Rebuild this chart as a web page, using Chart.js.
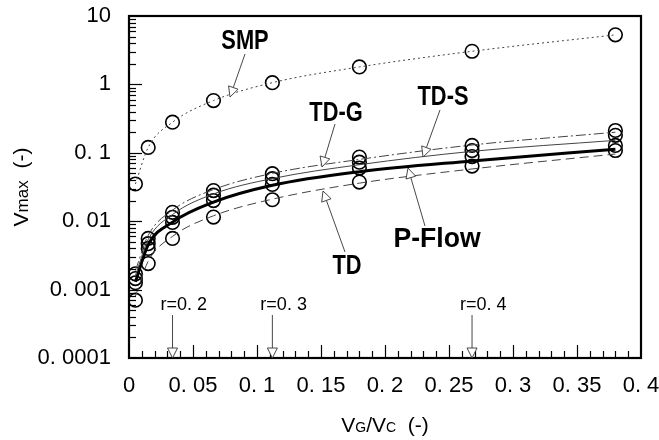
<!DOCTYPE html>
<html>
<head>
<meta charset="utf-8">
<script src="https://cdn.jsdelivr.net/npm/chart.js@4.4.1/dist/chart.umd.min.js"></script>
<style>
  html, body { margin: 0; padding: 0; background: #fff; }
  #wrap { width: 659px; height: 440px; }
</style>
</head>
<body>
<div id="wrap"><canvas id="chart"></canvas></div>
<script>
// ------------ DATA ---------------
const vgvc = [0.005, 0.015, 0.034, 0.066, 0.112, 0.18, 0.268, 0.38];

// measured points (open circles)
const smpPts   = [0.035, 0.12, 0.28, 0.58, 1.06, 1.8, 3.05, 5.3];
const tdsPts   = [0.0017, 0.0056, 0.0135, 0.028, 0.0495, 0.0865, 0.128, 0.212];
const tdgPts   = [0.00145, 0.0047, 0.0114, 0.024, 0.0418, 0.073, 0.108, 0.18];
const pflowPts = [0.00126, 0.004, 0.0096, 0.020, 0.0345, 0.0597, 0.088, 0.128];
const tdPts    = [0.0007, 0.0024, 0.0056, 0.0115, 0.0206, 0.0373, 0.064, 0.108];

// fitted curves
const tdsLine   = [0.0019, 0.0062, 0.0145, 0.029, 0.05, 0.08, 0.13, 0.2];
const tdgLine   = [0.0016, 0.0054, 0.0125, 0.025, 0.042, 0.067, 0.105, 0.152];
const pflowLine = [0.0013, 0.0045, 0.0097, 0.019, 0.0335, 0.053, 0.076, 0.113];
const tdLine    = [0.0008, 0.0026, 0.006, 0.012, 0.021, 0.036, 0.058, 0.096];

// axis ticks
const xTicks = [0, 0.05, 0.1, 0.15, 0.2, 0.25, 0.3, 0.35, 0.4];
const xTickLabels = ["0", "0. 05", "0. 1", "0. 15", "0. 2", "0. 25", "0. 3", "0. 35", "0. 4"];
const yTicks = [0.0001, 0.001, 0.01, 0.1, 1, 10];
const yTickLabels = ["0. 0001", "0. 001", "0. 01", "0. 1", "1", "10"];

// r markers on the x axis
const rLabels = ["r=0. 2", "r=0. 3", "r=0. 4"];
const rValues = [0.034, 0.112, 0.268];

const FONT = "'Liberation Sans Narrow', 'Liberation Sans', sans-serif";
const pts = arr => arr.map((v, i) => ({ x: vgvc[i], y: v }));

const curve = (data, width, dash, color) => ({
  data: pts(data), showLine: true, borderColor: color, borderWidth: width,
  borderDash: dash, pointRadius: 0, tension: 0.4, cubicInterpolationMode: 'monotone', fill: false
});
const circles = data => ({
  data: pts(data), showLine: false, pointRadius: 6.8, pointBorderWidth: 1.6,
  pointBorderColor: '#000', pointBackgroundColor: 'rgba(0,0,0,0)'
});

// ------------ DRAWING HELPERS ---------------
function arrow(ctx, x1, y1, x2, y2) {
  ctx.save();
  ctx.strokeStyle = '#333';
  ctx.lineWidth = 0.9;
  ctx.setLineDash([]);
  const a = Math.atan2(y2 - y1, x2 - x1);
  const L = 10, W = 5;
  const bx = x2 - L * Math.cos(a), by = y2 - L * Math.sin(a);
  ctx.beginPath();
  ctx.moveTo(x1, y1);
  ctx.lineTo(bx, by);
  ctx.stroke();
  ctx.beginPath();
  ctx.moveTo(x2, y2);
  ctx.lineTo(bx + W * Math.sin(a), by - W * Math.cos(a));
  ctx.lineTo(bx - W * Math.sin(a), by + W * Math.cos(a));
  ctx.closePath();
  ctx.fillStyle = '#fff';
  ctx.fill();
  ctx.stroke();
  ctx.restore();
}

function label(ctx, text, x, y, size, sx) {
  ctx.save();
  ctx.translate(x, y);
  ctx.scale(sx, 1);
  ctx.font = 'bold ' + size + 'px ' + FONT;
  ctx.fillStyle = '#000';
  ctx.textAlign = 'center';
  ctx.textBaseline = 'middle';
  ctx.fillText(text, 0, 0);
  ctx.restore();
}

// text made of parts with different sizes on one baseline
function mixedText(ctx, parts, cx, baseY) {
  let w = 0;
  parts.forEach(p => { ctx.font = p.s + 'px ' + FONT; p.w = ctx.measureText(p.t).width; w += p.w; });
  let x = cx - w / 2;
  ctx.textAlign = 'left';
  ctx.textBaseline = 'alphabetic';
  ctx.fillStyle = '#000';
  parts.forEach(p => { ctx.font = p.s + 'px ' + FONT; ctx.fillText(p.t, x, baseY); x += p.w; });
}

const decorations = {
  id: 'decorations',
  afterDatasetsDraw(chart) {
    const { ctx, chartArea: a, scales: { x, y } } = chart;
    ctx.save();

    // frame
    ctx.strokeStyle = '#000';
    ctx.lineWidth = 2.2;
    ctx.strokeRect(a.left, a.top, a.right - a.left, a.bottom - a.top);

    // inside ticks on x
    ctx.lineWidth = 1.2;
    for (let i = 1; i < 40; i++) {
      const v = i / 100;
      const px = Math.round(x.getPixelForValue(v)) + 0.5;
      const len = i % 5 === 0 ? 13 : 7;
      ctx.beginPath();
      ctx.moveTo(px, a.bottom);
      ctx.lineTo(px, a.bottom - len);
      ctx.stroke();
    }
    // inside ticks on y
    for (let e = -4; e <= 0; e++) {
      for (let m = 1; m <= 9; m++) {
        const v = m * Math.pow(10, e);
        if (m === 1 && e === -4) continue;
        const py = Math.round(y.getPixelForValue(v)) + 0.5;
        const len = m === 1 ? 13 : 7;
        ctx.beginPath();
        ctx.moveTo(a.left, py);
        ctx.lineTo(a.left + len, py);
        ctx.stroke();
      }
    }

    // curve labels with leader arrows
    label(ctx, 'SMP', 245, 41, 28, 0.78);
    arrow(ctx, 245, 54, 230, 97);
    label(ctx, 'TD-G', 336, 113, 28, 0.78);
    arrow(ctx, 335, 124, 322, 167);
    label(ctx, 'TD-S', 443, 97, 28, 0.78);
    arrow(ctx, 440, 110, 423, 157);
    label(ctx, 'TD', 347, 266, 28, 0.78);
    arrow(ctx, 345, 252, 323, 191);
    label(ctx, 'P-Flow', 437, 239, 28, 0.95);
    arrow(ctx, 425, 226, 408, 168);

    // r markers
    rValues.forEach((r, i) => {
      const px = x.getPixelForValue(r);
      ctx.save();
      ctx.font = '18px ' + FONT;
      ctx.fillStyle = '#000';
      ctx.textAlign = 'left';
      ctx.textBaseline = 'middle';
      ctx.fillText(rLabels[i], px - 12, 305);
      ctx.restore();
      arrow(ctx, px, 315, px, a.bottom);
    });

    // axis titles
    mixedText(ctx, [{ t: 'V', s: 21 }, { t: 'G', s: 14 }, { t: '/V', s: 21 }, { t: 'C', s: 14 }, { t: '  (-)', s: 21 }],
      (a.left + a.right) / 2, 432);
    ctx.save();
    ctx.translate(28, (a.top + a.bottom) / 2);
    ctx.rotate(-Math.PI / 2);
    mixedText(ctx, [{ t: 'V', s: 21 }, { t: 'max', s: 17 }, { t: '  (-)', s: 21 }], 0, 0);
    ctx.restore();

    ctx.restore();
  }
};

const noPad = s => { s.paddingTop = 0; s.paddingBottom = 0; s.paddingLeft = 0; s.paddingRight = 0; };

// ------------ CHART ---------------
new Chart(document.getElementById('chart'), {
  type: 'scatter',
  data: {
    datasets: [
      curve(smpPts, 1, [2, 3], '#444'),
      curve(tdsLine, 1, [10, 3, 2, 3], '#444'),
      curve(tdgLine, 1, [], '#444'),
      curve(tdLine, 1, [9, 5], '#444'),
      curve(pflowLine, 3, [], '#000'),
      circles(smpPts),
      circles(tdsPts),
      circles(tdgPts),
      circles(pflowPts),
      circles(tdPts)
    ]
  },
  options: {
    responsive: true,
    maintainAspectRatio: false,
    animation: false,
    layout: { padding: { top: 16, right: 18, left: 0, bottom: 0 } },
    plugins: { legend: { display: false }, tooltip: { enabled: false } },
    scales: {
      x: {
        type: 'linear', min: 0, max: 0.4,
        grid: { display: false, drawTicks: false },
        border: { display: false },
        afterBuildTicks: s => { s.ticks = xTicks.map(v => ({ value: v })); },
        afterFit: s => { s.height = 82; noPad(s); },
        ticks: {
          padding: 15, color: '#000', maxRotation: 0, autoSkip: false,
          font: { family: FONT, size: 22 },
          callback: (v, i) => xTickLabels[i]
        }
      },
      y: {
        type: 'logarithmic', min: 0.0001, max: 10,
        grid: { display: false, drawTicks: false },
        border: { display: false },
        afterBuildTicks: s => { s.ticks = yTicks.map(v => ({ value: v })); },
        afterFit: s => { s.width = 129; noPad(s); },
        ticks: {
          padding: 18, color: '#000', autoSkip: false,
          font: { family: FONT, size: 22 },
          callback: (v, i) => yTickLabels[i]
        }
      }
    }
  },
  plugins: [decorations]
});
</script>
</body>
</html>
